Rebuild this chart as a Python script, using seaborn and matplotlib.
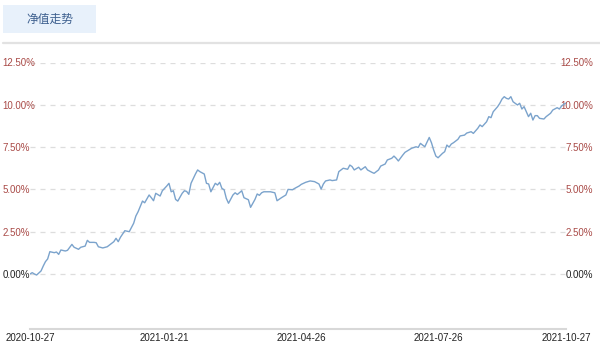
import matplotlib
matplotlib.use("Agg")
import matplotlib.pyplot as plt
import seaborn as sns
import pandas as pd

# trading-day index and cumulative return (%)
days = [0, 1, 2, 3, 5, 6, 7, 8, 9, 11, 12, 13, 14, 16, 17, 19, 20, 22, 23, 25,
        26, 27, 29, 30, 31, 33, 35, 37, 38, 39, 40, 41, 43, 45, 47, 48, 49, 51, 52, 54,
        55, 56, 57, 59, 60, 62, 63, 64, 65, 66, 67, 69, 70, 71, 72, 73, 75, 76, 77, 79,
        80, 81, 82, 84, 85, 86, 87, 88, 89, 90, 92, 93, 94, 96, 97, 99, 100, 102, 103, 104,
        105, 106, 109, 111, 112, 114, 116, 117, 119, 120, 122, 123, 125, 127, 129, 131, 132, 133, 134, 136,
        137, 139, 140, 141, 142, 144, 145, 146, 147, 149, 150, 152, 153, 155, 156, 158, 159, 161, 162, 164,
        165, 166, 167, 169, 170, 171, 173, 175, 176, 177, 178, 179, 181, 182, 183, 184, 185, 187, 188, 189,
        190, 191, 192, 194, 195, 197, 198, 200, 201, 203, 204, 205, 207, 208, 209, 210, 212, 213, 214, 215,
        216, 217, 218, 219, 221, 222, 223, 224, 225, 226, 227, 228, 229, 230, 231, 233, 234, 236, 237, 239,
        240, 241, 242, 243]
nav_return = [0.0, 0.08, 0.0, -0.06, 0.18, 0.47, 0.73, 0.89, 1.32, 1.26, 1.3, 1.16, 1.42, 1.36, 1.4, 1.75, 1.58, 1.46, 1.58, 1.65,
              1.99, 1.87, 1.87, 1.85, 1.61, 1.54, 1.61, 1.81, 1.91, 2.11, 1.91, 2.17, 2.56, 2.5, 3.0, 3.43, 3.68, 4.31, 4.21, 4.67,
              4.51, 4.33, 4.77, 4.61, 4.92, 5.2, 5.36, 4.86, 4.92, 4.41, 4.31, 4.77, 4.92, 4.88, 4.71, 5.36, 5.91, 6.15, 6.05, 5.91,
              5.36, 5.32, 4.86, 5.36, 5.26, 5.42, 5.06, 4.98, 4.47, 4.18, 4.67, 4.8, 4.7, 4.92, 4.51, 4.39, 3.94, 4.41, 4.73, 4.65,
              4.8, 4.86, 4.86, 4.8, 4.33, 4.51, 4.67, 5.0, 4.98, 5.06, 5.2, 5.3, 5.42, 5.5, 5.46, 5.32, 5.02, 5.32, 5.5, 5.56,
              5.52, 5.56, 6.05, 6.15, 6.25, 6.19, 6.44, 6.35, 6.15, 6.31, 6.15, 6.34, 6.15, 6.01, 5.95, 6.15, 6.38, 6.5, 6.74, 6.84,
              6.97, 6.84, 6.68, 7.03, 7.19, 7.27, 7.43, 7.52, 7.48, 7.72, 7.62, 7.52, 8.07, 7.76, 7.33, 6.97, 6.87, 7.13, 7.23, 7.62,
              7.5, 7.68, 7.76, 7.96, 8.16, 8.21, 8.33, 8.41, 8.31, 8.61, 8.81, 8.71, 9.0, 9.3, 9.24, 9.59, 9.89, 10.09, 10.34, 10.48,
              10.38, 10.34, 10.48, 10.18, 9.99, 10.09, 9.75, 9.89, 9.59, 9.3, 9.5, 9.1, 9.36, 9.36, 9.2, 9.16, 9.3, 9.5, 9.69, 9.83,
              9.75, 9.93, 10.03, 10.1]

tick_days = [0, 61, 123, 185, 243]
tick_labels = ["2020-10-27", "2021-01-21", "2021-04-26", "2021-07-26", "2021-10-27"]
y_ticks = [0.0, 2.5, 5.0, 7.5, 10.0, 12.5]
y_labels = ["0.00%", "2.50%", "5.00%", "7.50%", "10.00%", "12.50%"]
title = "净值走势"

df = pd.DataFrame({"day": days, "ret": nav_return})

sns.set_style("white")
plt.rcParams["font.family"] = ["Liberation Sans", "Noto Sans CJK SC", "DejaVu Sans"]

W, H = 600, 348
fig = plt.figure(figsize=(W / 100, H / 100), dpi=100)
left, right, top, bottom = 30, 566, 62.5, 329
ax = fig.add_axes([left / W, 1 - bottom / H, (right - left) / W, (bottom - top) / H])

sns.lineplot(data=df, x="day", y="ret", ax=ax, color="#7ba3cc", linewidth=1.0)

ax.set_xlim(0, 243)
ax.set_ylim(-3.25, 12.5)
ax.set_xlabel("")
ax.set_ylabel("")

for s in ["top", "left", "right"]:
    ax.spines[s].set_visible(False)
ax.spines["bottom"].set_color("#d8d8d8")
ax.spines["bottom"].set_linewidth(1.5)

ax.set_xticks(tick_days)
ax.set_xticklabels(tick_labels)
ax.tick_params(axis="x", length=0, pad=3, labelsize=7, labelcolor="#222222")

ax.set_yticks(y_ticks)
ax.set_yticklabels(y_labels)
ax.tick_params(axis="y", length=0, pad=19.6, labelsize=7, labelleft=True, labelright=True)
red = "#a94a47"
for tick, val in zip(ax.yaxis.get_major_ticks(), y_ticks):
    c = "#222222" if val == 0 else red
    tick.label1.set_horizontalalignment("left")
    tick.label2.set_horizontalalignment("right")
    tick.label1.set_color(c)
    tick.label2.set_color(c)

ax.grid(axis="y", color="#dddddd", linestyle=(0, (4, 4)), linewidth=0.9)
ax.grid(axis="x", visible=False)

# header
fig.patches.append(plt.Rectangle((3 / W, 1 - 32.7 / H), 93 / W, 27.7 / H,
                                 transform=fig.transFigure, facecolor="#e8f1fb",
                                 edgecolor="none"))
fig.text(50 / W, 1 - 19 / H, title, ha="center", va="center", fontsize=8.5,
         color="#3d5f8e", family=["Noto Sans CJK SC", "DejaVu Sans"])
fig.add_artist(plt.Line2D([3 / W, 1], [1 - 43 / H, 1 - 43 / H], transform=fig.transFigure,
                          color="#e2e2e2", linewidth=1.6))

fig.savefig("out.png", dpi=100)
